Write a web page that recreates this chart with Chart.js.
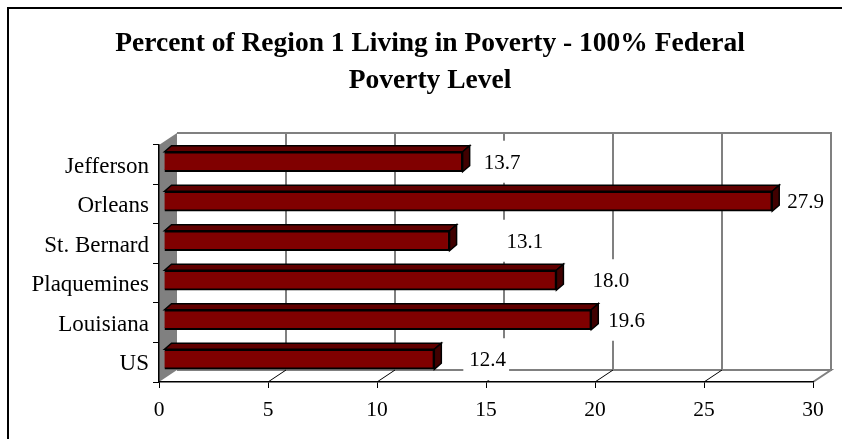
<!DOCTYPE html>
<html>
<head>
<meta charset="utf-8">
<style>html,body{margin:0;padding:0;background:#fff}canvas{display:block}</style>
<script src="https://cdn.jsdelivr.net/npm/chart.js@4"></script>
</head>
<body>
<canvas id="c" width="842" height="439"></canvas>
<script>
const categories = ["Jefferson", "Orleans", "St. Bernard", "Plaquemines", "Louisiana", "US"];
const values = [13.7, 27.9, 13.1, 18.0, 19.6, 12.4];
const titleLines = ["Percent of Region 1 Living in Poverty - 100% Federal", "Poverty Level"];
const labelGaps = [14, 8, 50, 29, 10, 28];

const FONT = '"Liberation Serif","Times New Roman",serif';
const WALL = {dx: 18, dy: -12};
const BAR_SHIFT = {dx: 5, dy: -3};
const BAR_DEPTH = {dx: 7, dy: -6};

const scene = {
  id: "scene",
  afterLayout(chart) {
    chart.titleBlock.left = 18;
    chart.titleBlock.right = 842;
  },
  beforeDraw(chart) {
    const {ctx, chartArea: a, scales: {x, y}} = chart;
    ctx.save();
    ctx.strokeStyle = "#000"; ctx.lineWidth = 2;
    ctx.beginPath();
    ctx.moveTo(8, 439); ctx.lineTo(8, 8); ctx.lineTo(842, 8);
    ctx.stroke();

    ctx.fillStyle = "#808080";
    ctx.beginPath();
    ctx.moveTo(a.left, a.top);
    ctx.lineTo(a.left + WALL.dx, a.top + WALL.dy);
    ctx.lineTo(a.left + WALL.dx, a.bottom + WALL.dy);
    ctx.lineTo(a.left, a.bottom);
    ctx.closePath(); ctx.fill();

    ctx.strokeStyle = "#808080"; ctx.lineWidth = 2;
    ctx.beginPath();
    ctx.moveTo(a.left + WALL.dx, a.top + WALL.dy);
    ctx.lineTo(a.right + WALL.dx, a.top + WALL.dy);
    ctx.lineTo(a.right + WALL.dx, a.bottom + WALL.dy);
    ctx.lineTo(a.left + WALL.dx, a.bottom + WALL.dy);
    ctx.lineTo(a.right + WALL.dx, a.bottom + WALL.dy);
    ctx.lineTo(a.right, a.bottom);
    ctx.stroke();

    x.ticks.forEach(t => {
      if (t.value === 0 || t.value === x.max) return;
      const px = x.getPixelForValue(t.value);
      ctx.strokeStyle = "#808080"; ctx.lineWidth = 2;
      ctx.beginPath();
      ctx.moveTo(px + WALL.dx, a.top + WALL.dy);
      ctx.lineTo(px + WALL.dx, a.bottom + WALL.dy);
      ctx.stroke();
      ctx.strokeStyle = "#000"; ctx.lineWidth = 1;
      ctx.beginPath();
      ctx.moveTo(px, a.bottom);
      ctx.lineTo(px + WALL.dx, a.bottom + WALL.dy);
      ctx.stroke();
    });

    ctx.font = "23px " + FONT;
    ctx.fillStyle = "#000";
    ctx.textAlign = "right";
    ctx.textBaseline = "middle";
    categories.forEach((name, i) => {
      ctx.fillText(name, a.left - 10, y.getPixelForValue(i) + 2);
    });
    ctx.restore();
  },
  beforeDatasetsDraw(chart) {
    const {ctx} = chart;
    const bars = chart.getDatasetMeta(0).data;
    ctx.save();
    ctx.font = "21px " + FONT;
    ctx.fillStyle = "#fff";
    bars.forEach((b, i) => {
      const left = b.x + BAR_SHIFT.dx + BAR_DEPTH.dx + labelGaps[i];
      const w = ctx.measureText(values[i].toFixed(1)).width;
      ctx.fillRect(left - 6, b.y + BAR_SHIFT.dy - 21, w + 9, 42);
    });
    ctx.restore();
    ctx.save();
    ctx.translate(BAR_SHIFT.dx, BAR_SHIFT.dy);
  },
  afterDatasetsDraw(chart) {
    const {ctx} = chart;
    const bars = chart.getDatasetMeta(0).data;
    bars.forEach(b => {
      const top = b.y - b.height / 2, bot = b.y + b.height / 2;
      ctx.lineWidth = 1.5;
      ctx.strokeStyle = "#000";
      ctx.fillStyle = "#600000";
      ctx.beginPath();
      ctx.moveTo(b.base, top);
      ctx.lineTo(b.base + BAR_DEPTH.dx, top + BAR_DEPTH.dy);
      ctx.lineTo(b.x + BAR_DEPTH.dx, top + BAR_DEPTH.dy);
      ctx.lineTo(b.x, top);
      ctx.closePath(); ctx.fill(); ctx.stroke();
      ctx.fillStyle = "#400000";
      ctx.beginPath();
      ctx.moveTo(b.x, top);
      ctx.lineTo(b.x + BAR_DEPTH.dx, top + BAR_DEPTH.dy);
      ctx.lineTo(b.x + BAR_DEPTH.dx, bot + BAR_DEPTH.dy);
      ctx.lineTo(b.x, bot);
      ctx.closePath(); ctx.fill(); ctx.stroke();
    });
    ctx.restore();
    ctx.save();
    ctx.font = "21px " + FONT;
    ctx.fillStyle = "#000";
    ctx.textAlign = "left";
    ctx.textBaseline = "middle";
    bars.forEach((b, i) => {
      const left = b.x + BAR_SHIFT.dx + BAR_DEPTH.dx + labelGaps[i];
      ctx.fillText(values[i].toFixed(1), left, b.y + BAR_SHIFT.dy + 1.5);
    });
    ctx.restore();
  }
};

new Chart(document.getElementById("c"), {
  type: "bar",
  data: {
    labels: categories,
    datasets: [{
      data: values,
      backgroundColor: "#800000",
      borderColor: "#000",
      borderWidth: 2,
      barThickness: 20,
      clip: false
    }]
  },
  plugins: [scene],
  options: {
    indexAxis: "y",
    responsive: false,
    animation: false,
    devicePixelRatio: 1,
    layout: {padding: {left: 18, right: 29, top: 0, bottom: 0}},
    plugins: {
      legend: {display: false},
      tooltip: {enabled: false},
      title: {
        display: true,
        text: titleLines,
        color: "#000",
        font: {family: FONT, size: 27.5, weight: "bold", lineHeight: 1.345},
        padding: {top: 25, bottom: 46}
      }
    },
    scales: {
      x: {
        min: 0, max: 30,
        ticks: {stepSize: 5, color: "#000", font: {family: FONT, size: 21.5}, padding: 9, maxRotation: 0},
        grid: {drawOnChartArea: false, drawTicks: true, tickLength: 6, color: "#000"},
        border: {color: "#000", width: 1.5},
        afterFit(s) { s.height = 57; }
      },
      y: {
        ticks: {display: false},
        grid: {drawOnChartArea: false, drawTicks: true, tickLength: 6, color: "#000"},
        border: {color: "#000", width: 1.5},
        afterFit(s) { s.width = 141; }
      }
    }
  }
});
</script>
</body>
</html>
